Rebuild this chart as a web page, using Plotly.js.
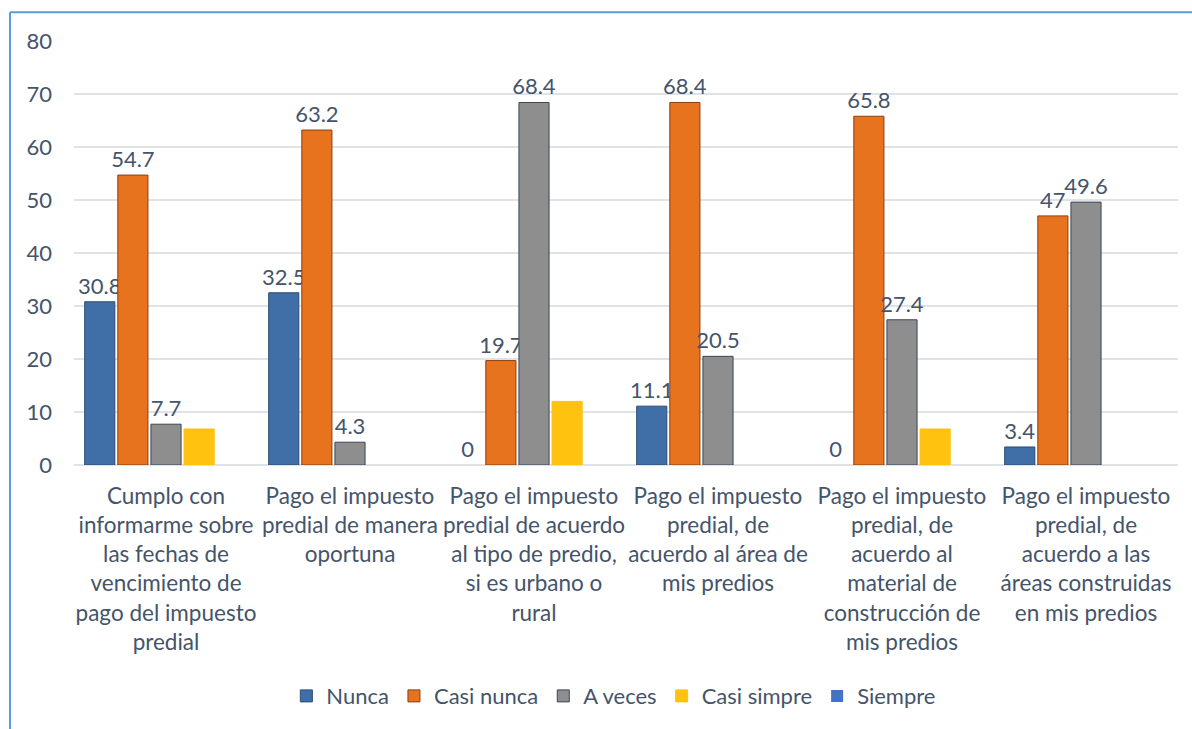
<!DOCTYPE html>
<html>
<head>
<meta charset="utf-8">
<script src="https://cdn.plot.ly/plotly-3.0.1.min.js"></script>
<style>
  html, body { margin: 0; padding: 0; background: #ffffff; }
  #chart { width: 1192px; height: 729px; }
</style>
</head>
<body>
<div id="chart"></div>
<script>
const categories = [
  "Cumplo con<br>informarme sobre<br>las fechas de<br>vencimiento de<br>pago del impuesto<br>predial",
  "Pago el impuesto<br>predial de manera<br>oportuna",
  "Pago el impuesto<br>predial de acuerdo<br>al tipo de predio,<br>si es urbano o<br>rural",
  "Pago el impuesto<br>predial, de<br>acuerdo al área de<br>mis predios",
  "Pago el impuesto<br>predial, de<br>acuerdo al<br>material de<br>construcción de<br>mis predios",
  "Pago el impuesto<br>predial, de<br>acuerdo a las<br>áreas construidas<br>en mis predios"
];
const nunca = [30.8, 32.5, 0, 11.1, 0, 3.4];
const casiNunca = [54.7, 63.2, 19.7, 68.4, 65.8, 47];
const aVeces = [7.7, 4.3, 68.4, 20.5, 27.4, 49.6];
const casiSimpre = [6.8, null, 12, null, 6.8, null];
const siempre = [null, null, null, null, null, null];
const yTicks = [0, 10, 20, 30, 40, 50, 60, 70, 80];

const txtColor = "#44546A";
const fontFam = "Lato, 'Open Sans', sans-serif";

function labels(arr) { return arr.map(v => v === null ? "" : String(v)); }

const idx = categories.map((_, i) => i);

const traces = [
  { name: "Nunca", y: nunca, color: "#3F6FA6", line: "#2B4C73", text: labels(nunca) },
  { name: "Casi nunca", y: casiNunca, color: "#E8731F", line: "#8A3F10", text: labels(casiNunca) },
  { name: "A veces", y: aVeces, color: "#8E8E8E", line: "#3A4656", text: labels(aVeces) },
  { name: "Casi simpre", y: casiSimpre, color: "#FFC20E", line: "#FFC20E", text: casiSimpre.map(() => "") },
  { name: "Siempre", y: siempre, color: "#4472C4", line: "#4472C4", text: siempre.map(() => "") }
].map(t => ({
  type: "bar",
  name: t.name,
  x: idx,
  y: t.y,
  text: t.text,
  textposition: "outside",
  constraintext: "none",
  cliponaxis: false,
  textfont: { family: fontFam, size: 22, color: txtColor },
  marker: {
    color: t.color,
    line: { color: t.line, width: t.y.map(v => (v ? 1 : 0)) }
  },
  hoverinfo: "skip"
}));

const layout = {
  width: 1192,
  height: 729,
  margin: { l: 74, r: 14, t: 41, b: 262 },
  paper_bgcolor: "#ffffff",
  plot_bgcolor: "#ffffff",
  barmode: "group",
  bargap: 0.1,
  bargroupgap: 0.09,
  uniformtext: { mode: false },
  font: { family: fontFam, size: 22, color: txtColor },
  showlegend: true,
  legend: {
    orientation: "h",
    x: 0.489,
    xanchor: "center",
    y: -0.545,
    yanchor: "middle",
    font: { family: fontFam, size: 22, color: txtColor },
    traceorder: "normal",
    itemwidth: 30
  },
  xaxis: {
    type: "linear",
    range: [-0.5, 5.5],
    tickmode: "array",
    tickvals: idx,
    ticktext: categories,
    tickangle: 0,
    showgrid: false,
    zeroline: false,
    showline: false,
    ticks: "",
    ticklabelstandoff: 15,
    tickfont: { family: fontFam, size: 22.5, color: txtColor }
  },
  yaxis: {
    range: [0, 80],
    tickmode: "array",
    tickvals: yTicks,
    ticktext: yTicks.map(String),
    showgrid: true,
    gridcolor: "#DFE3E8",
    gridwidth: 1.5,
    zeroline: true,
    zerolinecolor: "#DFE3E8",
    zerolinewidth: 1.5,
    showline: false,
    ticks: "",
    ticklabelstandoff: 21,
    tickfont: { family: fontFam, size: 22, color: txtColor }
  },
  shapes: [
    { type: "line", xref: "paper", yref: "paper", x0: -0.058, x1: 1.1, y0: 1.068, y1: 1.068,
      line: { color: "#5B9BD5", width: 2 } },
    { type: "line", xref: "paper", yref: "paper", x0: -0.058, x1: -0.058, y0: 1.068, y1: -0.7,
      line: { color: "#5B9BD5", width: 2 } }
  ]
};

Plotly.newPlot("chart", traces, layout, { displayModeBar: false, staticPlot: true });
</script>
</body>
</html>
